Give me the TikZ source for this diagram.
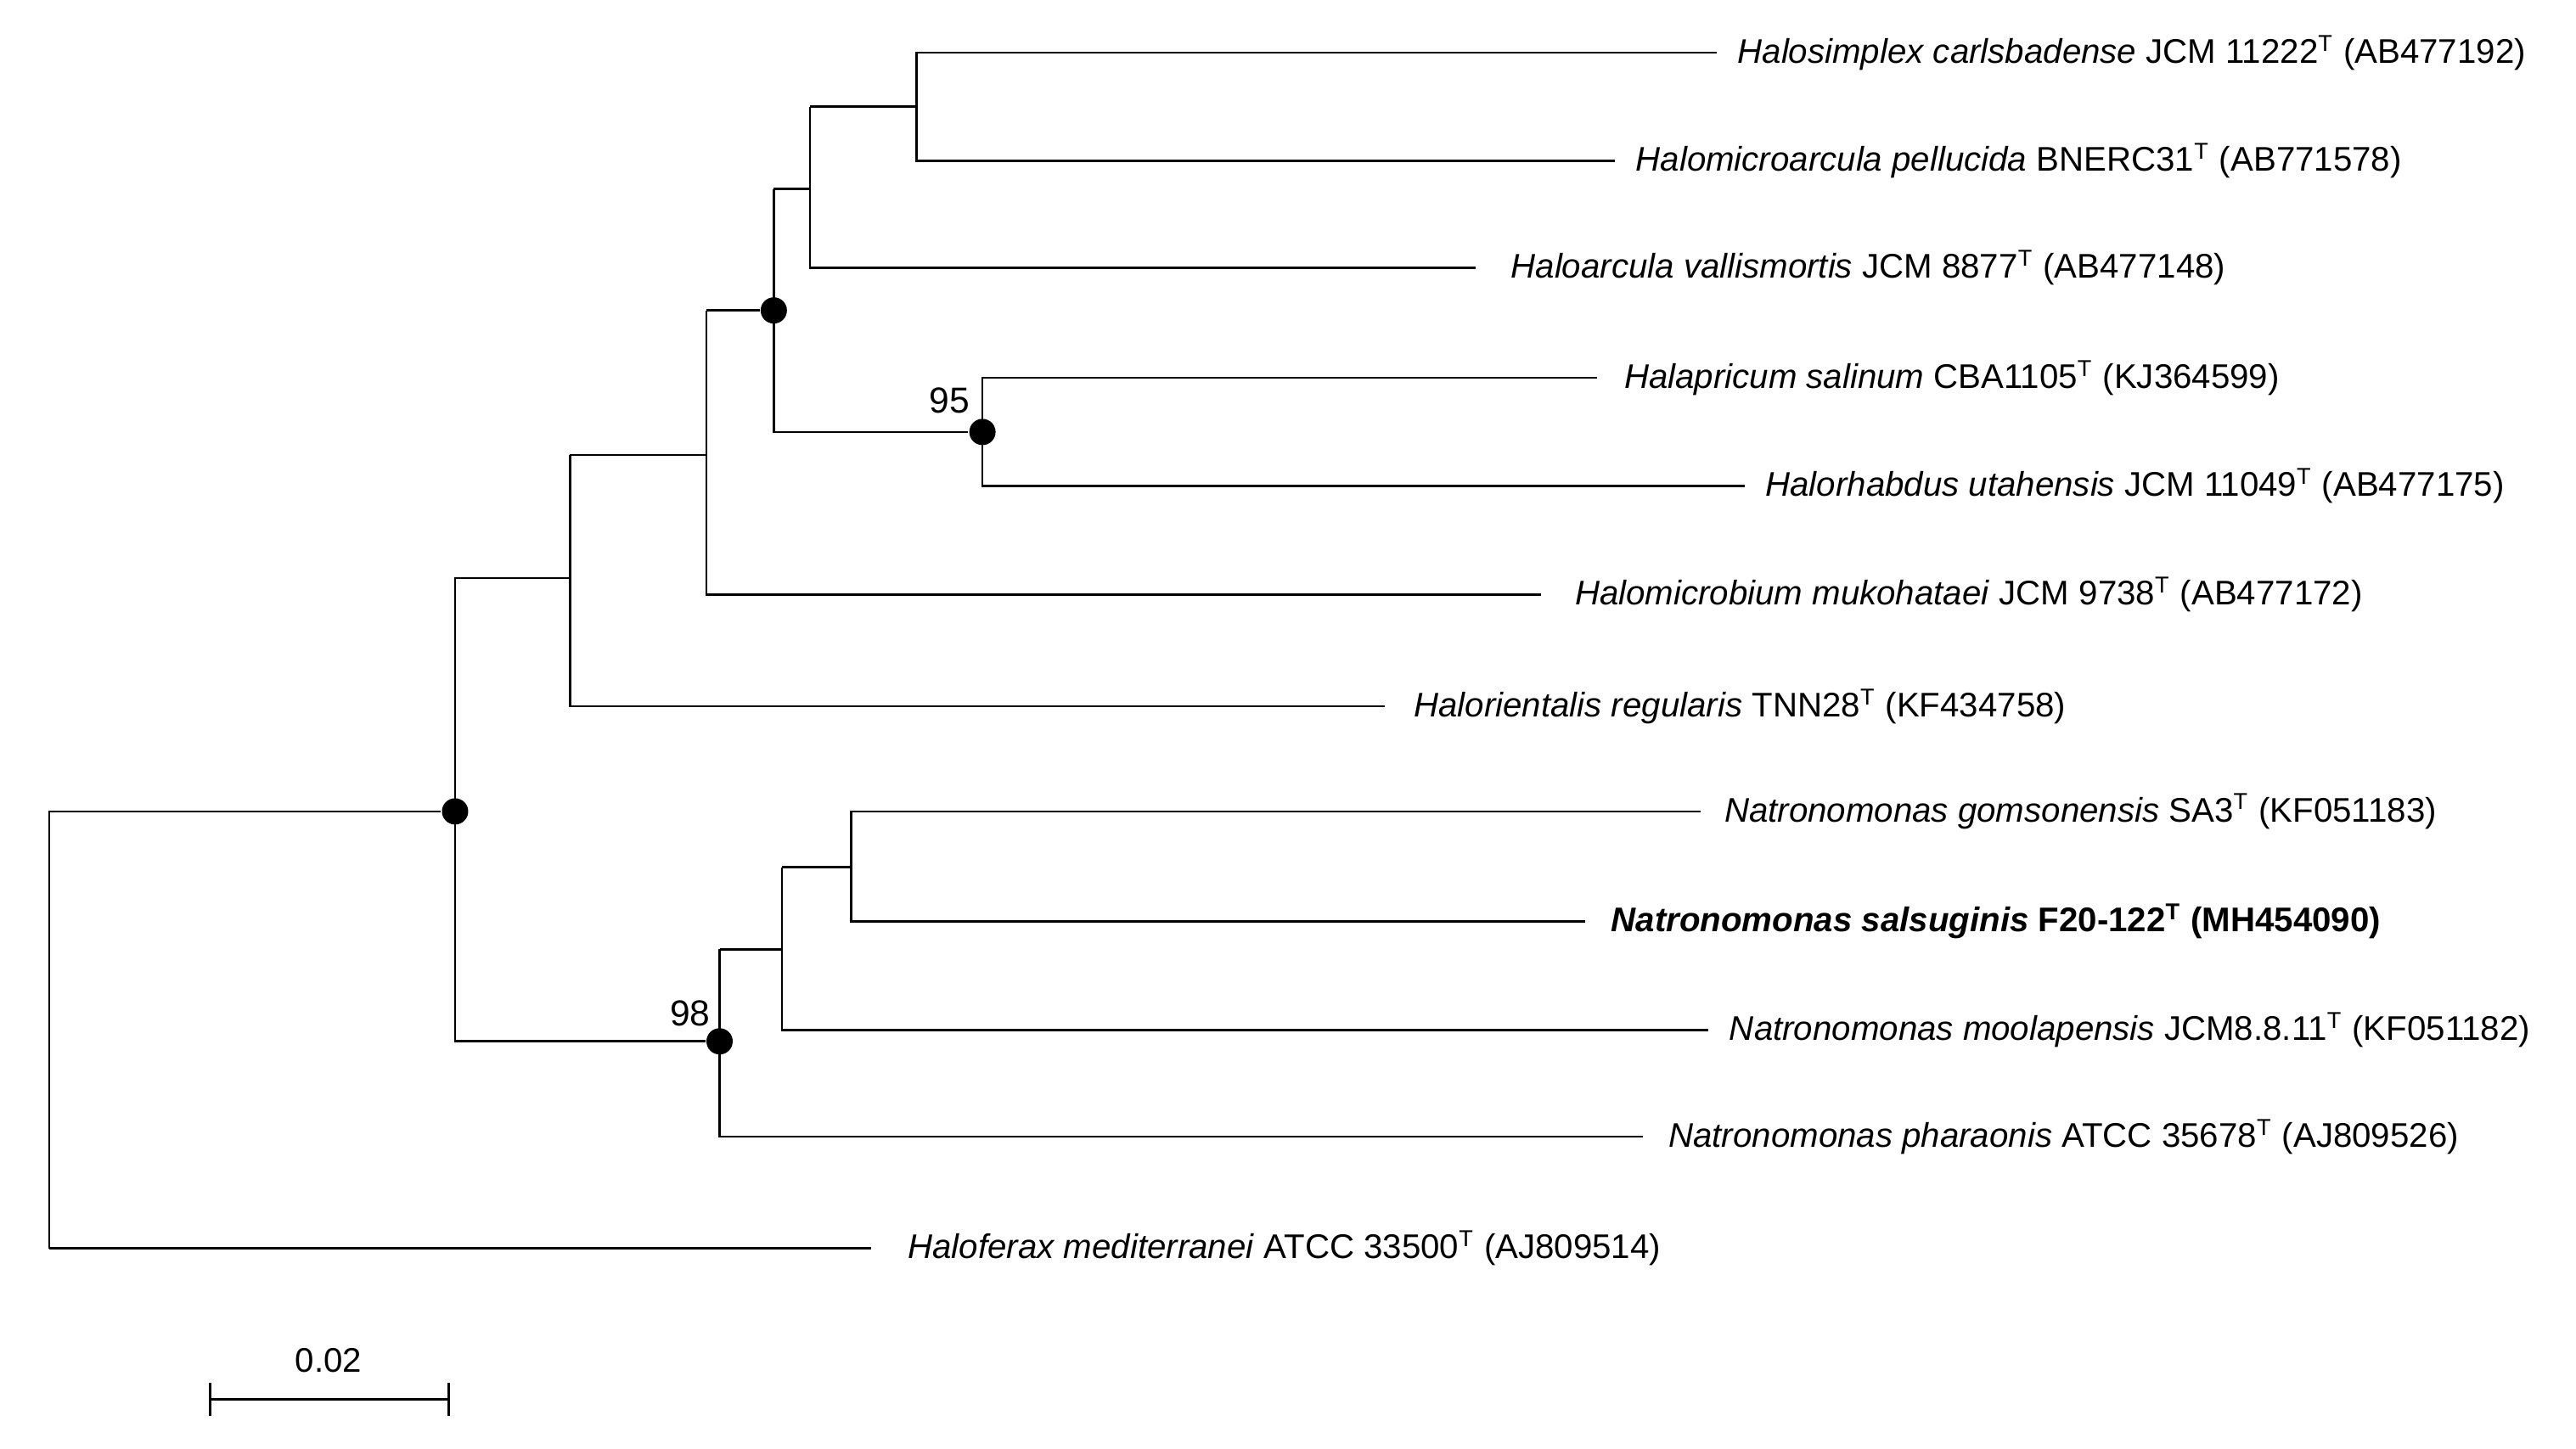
\documentclass[tikz,border=0pt]{standalone}
\usepackage{fontspec}
\setmainfont{Liberation Sans}
\newcommand{\tsup}{\textsuperscript{\scriptsize T}}
\begin{document}
\begin{tikzpicture}[x=0.5pt,y=-0.5pt,line width=0.7pt,
  lab/.style={anchor=west,font=\fontsize{10.4}{12}\selectfont,inner sep=0},
  dot/.style={circle,fill=black,inner sep=0,minimum size=8pt},
  bs/.style={font=\fontsize{11}{12}\selectfont,inner sep=0}]
\useasboundingbox (0,0) rectangle (1568,882);
% nodes
\coordinate (r) at (30,494);
\node[dot] (n1) at (277,494) {};
\coordinate (n2) at (347,352);
\coordinate (n3) at (430,277);
\node[dot] (n4) at (471,189) {};
\coordinate (n5) at (493,115);
\coordinate (n6) at (558,65);
\node[dot] (n7) at (598,263) {};
\node[dot] (n8) at (438,634) {};
\coordinate (n9) at (476,578);
\coordinate (n10) at (518,528);
% leaves
\node[lab] (l1) at (1057,32) {\textit{Halosimplex carlsbadense} JCM 11222\tsup{} (AB477192)};
\node[lab] (l2) at (995,98) {\textit{Halomicroarcula pellucida} BNERC31\tsup{} (AB771578)};
\node[lab] (l3) at (919,163) {\textit{Haloarcula vallismortis} JCM 8877\tsup{} (AB477148)};
\node[lab] (l4) at (988,230) {\textit{Halapricum salinum} CBA1105\tsup{} (KJ364599)};
\node[lab] (l5) at (1074,296) {\textit{Halorhabdus utahensis} JCM 11049\tsup{} (AB477175)};
\node[lab] (l6) at (958,362) {\textit{Halomicrobium mukohataei} JCM 9738\tsup{} (AB477172)};
\node[lab] (l7) at (860,430) {\textit{Halorientalis regularis} TNN28\tsup{} (KF434758)};
\node[lab] (l8) at (1049,494) {\textit{Natronomonas gomsonensis} SA3\tsup{} (KF051183)};
\node[lab] (l9) at (980,561) {\textbf{\textit{Natronomonas salsuginis} F20-122\tsup{} (MH454090)}};
\node[lab] (l10) at (1052,627) {\textit{Natronomonas moolapensis} JCM8.8.11\tsup{} (KF051182)};
\node[lab] (l11) at (1015,692) {\textit{Natronomonas pharaonis} ATCC 35678\tsup{} (AJ809526)};
\node[lab] (l12) at (552,760) {\textit{Haloferax mediterranei} ATCC 33500\tsup{} (AJ809514)};
% branches
\draw (r|-l12) -- (r) -- (n1);
\draw (530,760) -- (r|-l12);
\draw (n1|-n2) -- (n1|-n8) -- (n8);
\draw (n1) -- (n1|-n2) -- (n2);
\draw (n2|-n3) -- (n2|-l7) -- (843,430);
\draw (n2|-n3) -- (n3);
\draw (n3|-n4) -- (n3|-l6) -- (938,362);
\draw (n3|-n4) -- (n4);
\draw (n4|-n5) -- (n4|-n7) -- (n7);
\draw (n4|-n5) -- (n5);
\draw (n5|-n6) -- (n5|-l3) -- (898,163);
\draw (n5|-n6) -- (n6);
\draw (1045,32) -- (n6|-l1) -- (n6|-l2) -- (983,98);
\draw (972,230) -- (n7|-l4) -- (n7|-l5) -- (1062,296);
\draw (n8|-n9) -- (n8|-l11) -- (1000,692);
\draw (n8|-n9) -- (n9);
\draw (n9|-n10) -- (n9|-l10) -- (1040,627);
\draw (n9|-n10) -- (n10);
\draw (1035,494) -- (n10|-l8) -- (n10|-l9) -- (965,561);
\node[bs] (b95) at (578,244) {95};
\node[bs] (b98) at (420,617) {98};
% scale bar
\coordinate (s1) at (128,852);
\coordinate (s2) at (273,852);
\draw (s1) -- (s2);
\draw (128,842) -- (128,862);
\draw (273,842) -- (273,862);
\node[lab,anchor=center] (sl) at (200,828) {0.02};
\end{tikzpicture}
\end{document}
